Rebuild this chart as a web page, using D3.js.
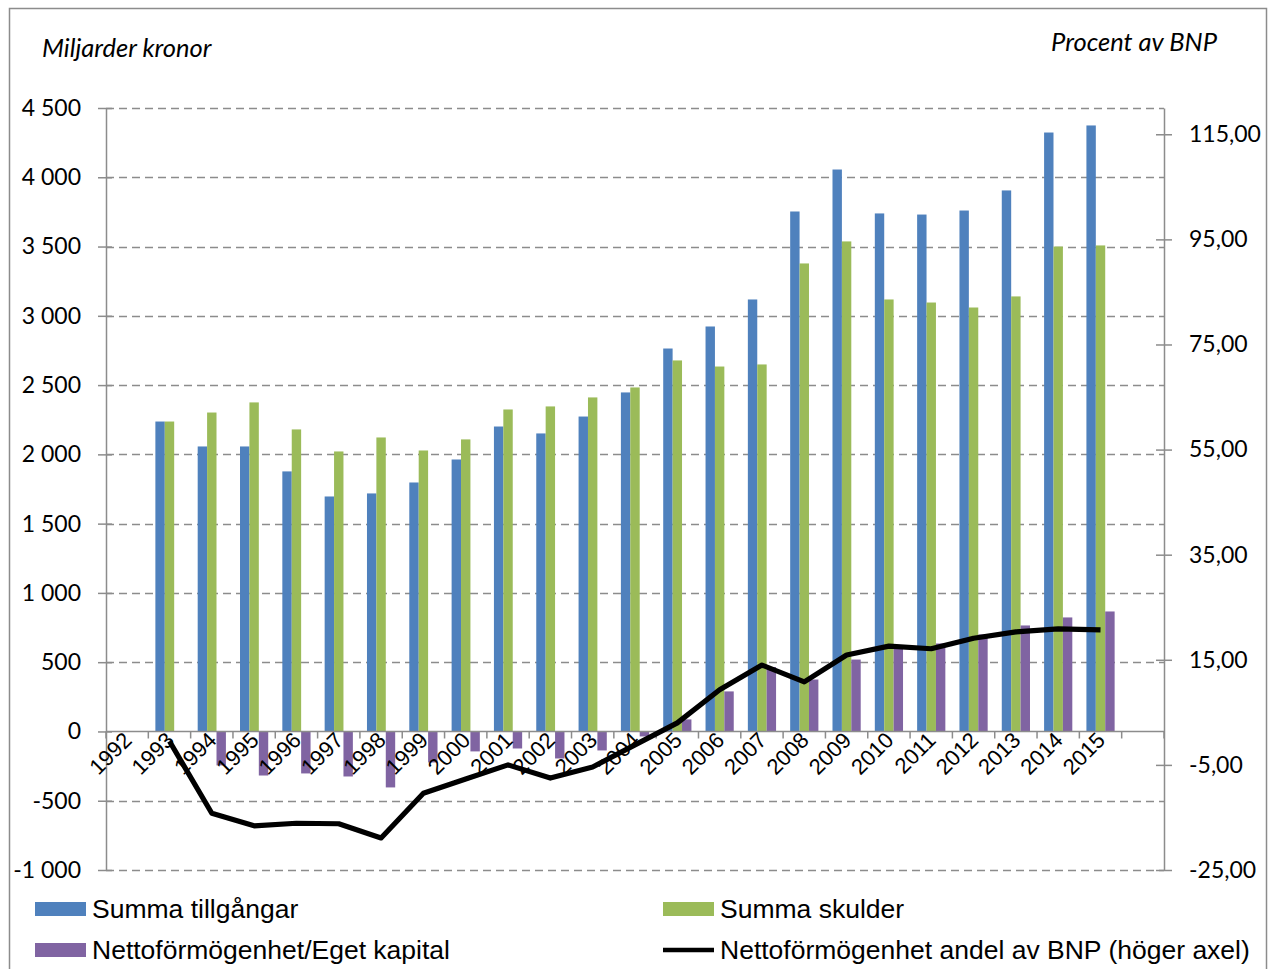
<!DOCTYPE html>
<html>
<head>
<meta charset="utf-8">
<script src="https://cdn.jsdelivr.net/npm/d3@7"></script>
<style>
  body { margin: 0; background: #fff; }
  svg { display: block; }
</style>
</head>
<body>
<svg id="chart" width="1278" height="969"></svg>
<script>
// Data
const years = ["1992","1993","1994","1995","1996","1997","1998","1999","2000","2001","2002","2003",
               "2004","2005","2006","2007","2008","2009","2010","2011","2012","2013","2014","2015",""];
const tillgangar = [null,2237,2057,2057,1877,1696,1718,1797,1963,2201,2151,2273,
                    2447,2764,2923,3118,3753,4056,3739,3731,3760,3905,4323,4374,null];
const skulder    = [null,2237,2302,2375,2180,2021,2122,2028,2108,2324,2346,2411,
                    2483,2678,2634,2649,3378,3537,3118,3096,3060,3140,3500,3508,null];
const netto      = [null,0,-245,-318,-303,-325,-404,-224,-144,-123,-195,-137,
                    -36,87,289,465,375,519,621,635,700,765,823,866,null];
const andelBNP   = [null,-0.5,-14.2,-16.6,-16.1,-16.2,-18.9,-10.4,-7.7,-5.0,-7.5,-5.4,
                    -1.2,3.0,9.3,14.0,10.8,15.9,17.6,17.1,19.1,20.3,20.9,20.7,null];
const leftTicks = d3.range(-1000, 4501, 500);
const rightTicks = d3.range(-25, 116, 20);

const seriesNames = ["Summa tillgångar", "Summa skulder", "Nettoförmögenhet/Eget kapital"];
const lineName = "Nettoförmögenhet andel av BNP (höger axel)";
const colors = ["#4F81BD", "#9BBB59", "#8064A2"];

const svg = d3.select("#chart");
const plotLeft = 106, plotRight = 1164, plotTop = 108, plotBottom = 870;
const calibri = "Lato, Carlito, Calibri, sans-serif";
const arial = "Liberation Sans, Arial, sans-serif";

// outer frame
svg.append("rect")
    .attr("x", 9.5).attr("y", 8.5)
    .attr("width", 1257).attr("height", 980)
    .attr("fill", "none").attr("stroke", "#8c8c8c").attr("stroke-width", 1.5);

const x = d3.scaleBand().domain(years.map((d, i) => i)).range([plotLeft, plotRight]);
const bw = x.bandwidth();
const gap = bw * 1.5 / 4.5 / 2;
const x1 = d3.scaleBand().domain([0, 1, 2]).range([gap, bw - gap]);

const y = d3.scaleLinear().domain([-1000, 4500]).range([plotBottom, plotTop]);
const y2 = d3.scaleLinear().domain([-25, 120]).range([plotBottom, plotTop]);

const svLocale = d3.formatLocale({ decimal: ",", thousands: " ", grouping: [3], currency: ["", ""], minus: "-" });
const fmtLeft = svLocale.format(",d");
const fmtRight = svLocale.format(".2f");

// gridlines
svg.append("g")
    .selectAll("line")
    .data(leftTicks.filter(d => d !== 0))
    .join("line")
    .attr("x1", plotLeft).attr("x2", plotRight)
    .attr("y1", d => Math.round(y(d)) + 0.5).attr("y2", d => Math.round(y(d)) + 0.5)
    .attr("stroke", "#8c8c8c").attr("stroke-width", 1.5)
    .attr("stroke-dasharray", "8,5");

// bars
const seriesData = [tillgangar, skulder, netto];
seriesData.forEach((vals, s) => {
    svg.append("g")
        .selectAll("rect")
        .data(vals.map((v, i) => ({ i, v })).filter(d => d.v !== null && d.v !== 0))
        .join("rect")
        .attr("x", d => x(d.i) + x1(s))
        .attr("width", x1.bandwidth())
        .attr("y", d => y(Math.max(0, d.v)))
        .attr("height", d => Math.abs(y(d.v) - y(0)))
        .attr("fill", colors[s]);
});

// left axis
const leftAxis = svg.append("g")
    .attr("transform", `translate(${plotLeft},0)`)
    .call(d3.axisLeft(y).tickValues(leftTicks).tickFormat(fmtLeft).tickSize(8).tickSizeOuter(0));
leftAxis.select(".domain").attr("stroke", "#8c8c8c").attr("stroke-width", 1.5);
leftAxis.selectAll(".tick line").attr("x2", -8).attr("x1", 6)
    .attr("stroke", "#8c8c8c").attr("stroke-width", 1.5);
leftAxis.selectAll(".tick text")
    .attr("x", -25)
    .attr("font-family", calibri)
    .attr("font-size", 23).attr("fill", "#000");

// right axis
const rightAxis = svg.append("g")
    .attr("transform", `translate(${plotRight},0)`)
    .call(d3.axisRight(y2).tickValues(rightTicks).tickFormat(fmtRight).tickSize(8).tickSizeOuter(0));
rightAxis.select(".domain").attr("stroke", "#8c8c8c").attr("stroke-width", 1.5);
rightAxis.selectAll(".tick line").attr("x1", -8).attr("x2", 8)
    .attr("stroke", "#8c8c8c").attr("stroke-width", 1.5);
rightAxis.selectAll(".tick text")
    .attr("x", 25)
    .attr("text-anchor", "start")
    .attr("font-family", calibri)
    .attr("font-size", 23).attr("fill", "#000");

// category axis at zero
const y0 = Math.round(y(0)) + 0.5;
svg.append("line")
    .attr("x1", plotLeft).attr("x2", plotRight)
    .attr("y1", y0).attr("y2", y0)
    .attr("stroke", "#8c8c8c").attr("stroke-width", 1.5);
svg.append("g")
    .selectAll("line")
    .data(d3.range(years.length + 1))
    .join("line")
    .attr("x1", i => plotLeft + i * bw).attr("x2", i => plotLeft + i * bw)
    .attr("y1", y0).attr("y2", y0 + 7)
    .attr("stroke", "#8c8c8c").attr("stroke-width", 1.5);
svg.append("g")
    .selectAll("text")
    .data(years.map((d, i) => ({ d, i })).filter(o => o.d !== ""))
    .join("text")
    .attr("transform", o => `translate(${x(o.i) + bw / 2 + 6},${y0 + 10}) rotate(-45)`)
    .attr("text-anchor", "end")
    .attr("font-family", arial)
    .attr("font-size", 22)
    .text(o => o.d);

// line on right axis
const line = d3.line()
    .defined(d => d.v !== null)
    .x(d => x(d.i) + bw / 2)
    .y(d => y2(d.v));
svg.append("path")
    .datum(andelBNP.map((v, i) => ({ i, v })))
    .attr("d", line)
    .attr("fill", "none")
    .attr("stroke", "#000")
    .attr("stroke-width", 5.2)
    .attr("stroke-linejoin", "round");

// axis titles
svg.append("text")
    .attr("x", 42).attr("y", 57)
    .attr("font-family", calibri)
    .attr("font-style", "italic")
    .attr("font-size", 25.5)
    .text("Miljarder kronor");
svg.append("text")
    .attr("x", 1217).attr("y", 51)
    .attr("text-anchor", "end")
    .attr("font-family", calibri)
    .attr("font-style", "italic")
    .attr("font-size", 25.5)
    .text("Procent av BNP");

// legend
const legendItems = [
    { name: seriesNames[0], color: colors[0], type: "rect", lx: 35, ly: 909 },
    { name: seriesNames[1], color: colors[1], type: "rect", lx: 663, ly: 909 },
    { name: seriesNames[2], color: colors[2], type: "rect", lx: 35, ly: 950 },
    { name: lineName, color: "#000", type: "line", lx: 663, ly: 950 }
];
const lg = svg.append("g")
    .selectAll("g")
    .data(legendItems)
    .join("g")
    .attr("transform", d => `translate(${d.lx},${d.ly})`);
lg.filter(d => d.type === "rect").append("rect")
    .attr("x", 0).attr("y", -7).attr("width", 51).attr("height", 14)
    .attr("fill", d => d.color);
lg.filter(d => d.type === "line").append("line")
    .attr("x1", 0).attr("x2", 51).attr("y1", 0).attr("y2", 0)
    .attr("stroke", "#000").attr("stroke-width", 4.5);
lg.append("text")
    .attr("x", 57).attr("y", 9)
    .attr("font-family", arial)
    .attr("font-size", 26.5)
    .text(d => d.name);
</script>
</body>
</html>
